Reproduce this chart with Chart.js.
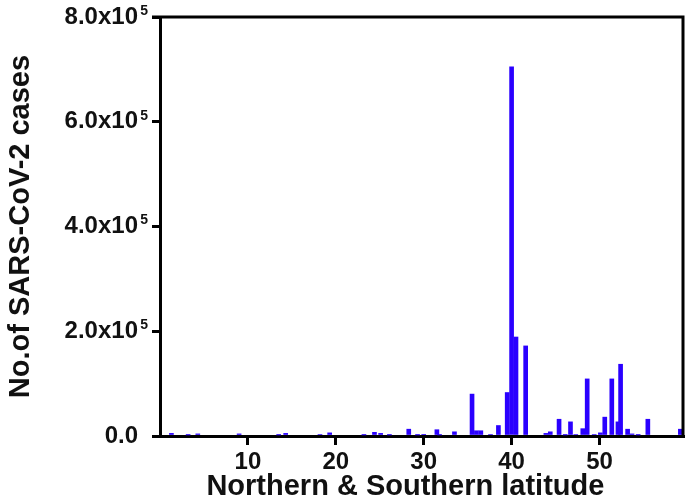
<!DOCTYPE html>
<html>
<head>
<meta charset="utf-8">
<script src="https://cdn.jsdelivr.net/npm/chart.js@4.4.1/dist/chart.umd.min.js"></script>
<style>
  html, body { margin: 0; padding: 0; background: #fff; }
  #wrap { width: 688px; height: 498px; }
</style>
</head>
<body>
<div id="wrap"><canvas id="chart"></canvas></div>
<script>
// latitude (degrees) and number of cases
const latitudes = [1.3, 3.2, 4.3, 9.0, 13.5, 14.3, 18.2, 19.3, 23.2, 24.4, 25.1, 26.1,
  28.3, 29.3, 30.0, 31.5, 31.8, 33.5, 35.5, 36.0, 36.5, 37.6, 38.5, 39.5, 40.0, 40.5,
  41.6, 43.9, 44.4, 45.4, 46.1, 46.7, 47.3, 48.1, 48.6, 49.4, 50.1, 50.6, 51.4, 52.1,
  52.4, 53.2, 53.7, 54.4, 55.5, 59.2];
const cases = [5000, 2000, 4000, 4000, 2000, 5000, 3000, 6000, 2000, 7000, 5000, 2000,
  13000, 2000, 2500, 12000, 2000, 8000, 80000, 10000, 10000, 3000, 20000, 83000, 705000, 189000,
  172000, 5000, 8000, 32000, 2000, 27000, 3000, 14000, 109000, 3000, 6000, 36000, 109000, 27000,
  137000, 13000, 4000, 2000, 32000, 13000];
const xTicks = [10, 20, 30, 40, 50];
const yTicks = [0, 200000, 400000, 600000, 800000];

const points = latitudes.map((x, i) => ({ x: x, y: cases[i] }));
const FONT = 'Liberation Sans, Arial, sans-serif';

// closes the box on top/right and adds the "5" exponent to the y labels
const frame = {
  id: 'frame',
  afterDraw(chart) {
    const { ctx, chartArea: a } = chart;
    const y = chart.scales.y;
    ctx.save();
    ctx.strokeStyle = '#000';
    ctx.lineWidth = 3;
    ctx.beginPath();
    ctx.moveTo(a.left - 8, a.top);
    ctx.lineTo(a.right, a.top);
    ctx.lineTo(a.right, a.bottom);
    ctx.stroke();

    ctx.fillStyle = '#111';
    ctx.font = 'bold 14px ' + FONT;
    ctx.textAlign = 'right';
    ctx.textBaseline = 'middle';
    yTicks.forEach(v => {
      if (v === 0) return;
      ctx.fillText('5', a.left - 12, y.getPixelForValue(v) - 6);
    });
    ctx.restore();
  }
};

new Chart(document.getElementById('chart'), {
  type: 'bar',
  data: {
    datasets: [{
      data: points,
      backgroundColor: '#2a00ff',
      borderWidth: 0,
      barThickness: 4
    }]
  },
  options: {
    responsive: true,
    maintainAspectRatio: false,
    animation: false,
    layout: { padding: { top: 17, right: 5, left: 6, bottom: 0 } },
    plugins: { legend: { display: false }, tooltip: { enabled: false } },
    scales: {
      x: {
        type: 'linear',
        min: 0,
        max: 59.5,
        offset: false,
        afterBuildTicks: s => { s.ticks = xTicks.map(v => ({ value: v })); },
        afterFit: s => { s.height = 62; },
        ticks: {
          color: '#111',
          font: { family: FONT, size: 24, weight: 'bold', lineHeight: 1 },
          padding: 5
        },
        grid: { offset: false, drawOnChartArea: false, color: '#000', lineWidth: 3, tickLength: 9 },
        border: { color: '#000', width: 3 },
        title: {
          display: true,
          text: 'Northern & Southern latitude\u00a0\u00a0\u00a0\u00a0',
          color: '#111',
          font: { family: FONT, size: 29, weight: 'bold', lineHeight: 1 },
          padding: { top: 0, bottom: -3 }
        }
      },
      y: {
        min: 0,
        max: 800000,
        afterBuildTicks: s => { s.ticks = yTicks.map(v => ({ value: v })); },
        afterFit: s => { s.width = 154; s.paddingTop = 0; },
        ticks: {
          color: '#111',
          font: { family: FONT, size: 24, weight: 'bold', lineHeight: 1 },
          padding: 14,
          callback: v => v === 0 ? '0.0' : (v / 100000).toFixed(1) + 'x10'
        },
        grid: { drawOnChartArea: false, color: '#000', lineWidth: 3, tickLength: 8 },
        border: { color: '#000', width: 3 },
        title: {
          display: true,
          text: 'No.of SARS-CoV-2 cases',
          color: '#111',
          font: { family: FONT, size: 29, weight: 'bold', lineHeight: 1 },
          padding: { top: 0, bottom: 0 }
        }
      }
    }
  },
  plugins: [frame]
});
</script>
</body>
</html>
